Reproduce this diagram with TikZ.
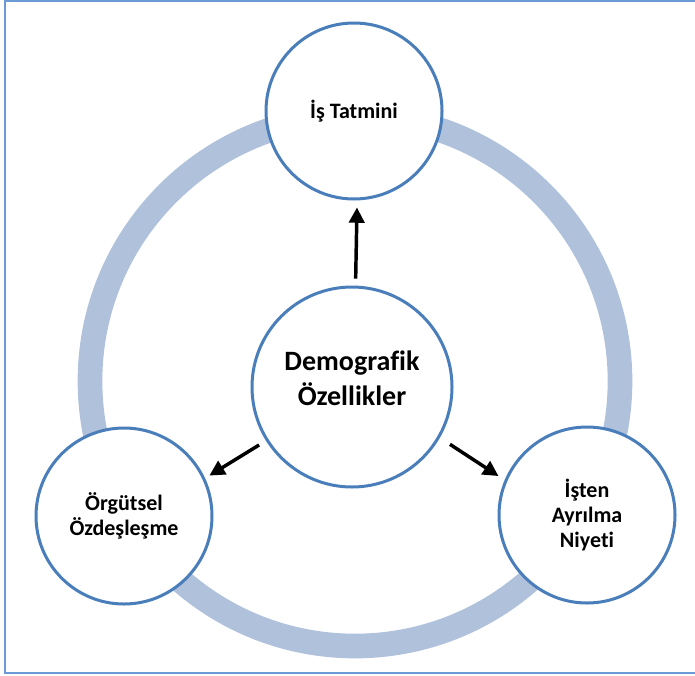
\documentclass[tikz,border=0pt]{standalone}
\usepackage{fontspec}
\setmainfont{Carlito}[Ligatures={NoCommon}]
\usetikzlibrary{arrows.meta}
\definecolor{ringc}{HTML}{B0C1DC}
\definecolor{circc}{HTML}{4A7EBB}
\definecolor{framec}{HTML}{6C9AD4}
\begin{document}
\begin{tikzpicture}[x=0.75pt,y=-0.75pt,
  bub/.style={circle,draw=circc,line width=2.25pt,fill=white,minimum size=132pt,inner sep=0pt,align=center,font=\bfseries\fontsize{16.5}{19}\selectfont},
  bigbub/.style={bub,minimum size=150pt},
  bigtxt/.style={align=center,inner sep=0pt,font=\bfseries\fontsize{21}{26}\selectfont},
  arr/.style={line width=2.6pt,-{Triangle[length=11.5pt,width=11.5pt]}}]
\useasboundingbox (0,0) rectangle (695,675);
\draw[framec,line width=2pt] (700,0.5) -- (5,0.5) -- (5,673) -- (700,673);
\coordinate (rc) at (355,381);
\draw[ringc,line width=18.5pt] (rc) circle[radius=198.75pt];
\node[bub] (t) at (354,111) {İş Tatmini};
\node[bigbub] (c) at (352,387) {};
\node[bigtxt] (ct) at (352,378) {Demografik\\Özellikler};
\node[bub] (l) at (124,516) {Örgütsel\\Özdeşleşme};
\node[bub] (r) at (587,515) {İşten\\Ayrılma\\Niyeti};
\draw[arr,shorten <=5.25pt,shorten >=5.25pt] (c.88) -- (t.272);
\draw[arr,shorten <=6pt,shorten >=3.75pt] (c.212) -- (l.25);
\draw[arr,shorten <=9pt,shorten >=5.5pt] (c.-30) -- (r.157);
\end{tikzpicture}
\end{document}
